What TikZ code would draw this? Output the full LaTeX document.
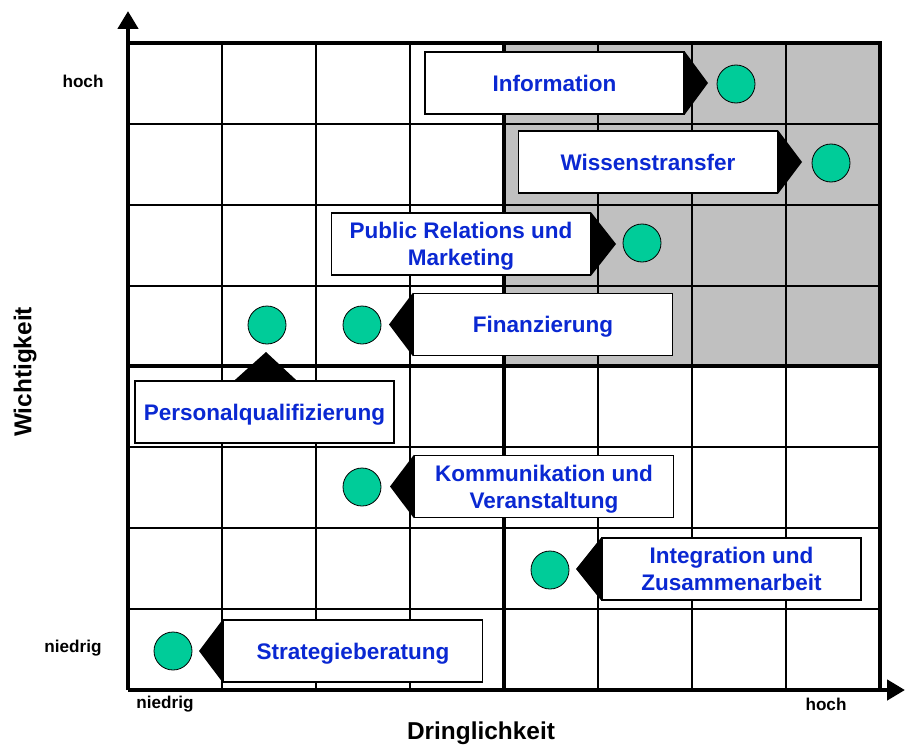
\documentclass[tikz,border=0pt]{standalone}
\usepackage{fontspec}
\setmainfont{Liberation Sans}
\usetikzlibrary{arrows.meta}
\definecolor{itemblue}{RGB}{10,40,210}
\definecolor{dotgreen}{RGB}{0,204,153}
\definecolor{zonegray}{RGB}{192,192,192}
\tikzset{
  thinrule/.style={line width=1.3bp, black},
  thickrule/.style={line width=4.5bp, black},
  axisarrow/.style={line width=4.5bp, -{Triangle[length=18bp,width=20bp]}},
  itembox/.style={draw=black, line width=1.3bp, fill=white, minimum width=259bp,
    minimum height=62bp, inner sep=0pt, align=center, text=itemblue, text depth=0pt,
    font=\bfseries\fontsize{22.6}{27}\selectfont},
  dot/.style={circle, draw=black, line width=0.8bp, fill=dotgreen, minimum size=38bp, inner sep=0pt},
  pointer/.style={fill=black, draw=none},
  scalelabel/.style={font=\bfseries\fontsize{17.2}{19}\selectfont},
  axistitle/.style={font=\bfseries\fontsize{24.5}{27}\selectfont}
}
\begin{document}
\begin{tikzpicture}[x=1bp, y=-1bp]
  \useasboundingbox (0,0) rectangle (905,747);
  % shaded upper right quadrant
  \fill[zonegray] (504,43) rectangle (880,366);
  % grid of 8 x 8 cells
  \foreach \gx in {222,316,410,598,692,786}
    \draw[thinrule] (\gx,43) -- (\gx,690);
  \foreach \gy in {124,205,286,447,528,609}
    \draw[thinrule] (128,\gy) -- (880,\gy);
  % quadrant borders
  \draw[thickrule] (128,43) -- (880,43) -- (880,690);
  \draw[thickrule] (504,43) -- (504,690);
  \draw[thickrule] (128,366) -- (880,366);
  % axes
  \coordinate (origin) at (128,690);
  \coordinate (ytop) at (128,11);
  \coordinate (xend) at (905,690);
  \draw[axisarrow] (origin) -- (ytop);
  \draw[axisarrow] (origin) -- (xend);
  % scale labels
  \node[scalelabel] (yhigh) at (83,81) {hoch};
  \node[scalelabel] (ylow) at (73,648) {niedrig};
  \node[scalelabel] (xlow) at (165,704) {niedrig};
  \node[scalelabel] (xhigh) at (826,704) {hoch};
  \node[axistitle] (xtitle) at (481,733) {Dringlichkeit};
  \node[axistitle, rotate=90] (ytitle) at (25,372) {Wichtigkeit};

  % items: box, pointer tip, dot
  \node[itembox] (info) at (554.5,83) {Information};
  \coordinate (infotip) at (708,83);
  \fill[pointer] (info.north east) -- (infotip) -- (info.south east) -- cycle;
  \node[dot] (infodot) at (736,84) {};

  \node[itembox] (wissen) at (648,162) {Wissenstransfer};
  \coordinate (wissentip) at (802,162);
  \fill[pointer] (wissen.north east) -- (wissentip) -- (wissen.south east) -- cycle;
  \node[dot] (wissendot) at (831,163) {};

  \node[itembox] (pr) at (461,244) {Public Relations und\\Marketing};
  \coordinate (prtip) at (616,244);
  \fill[pointer] (pr.north east) -- (prtip) -- (pr.south east) -- cycle;
  \node[dot] (prdot) at (642,243) {};

  \node[itembox] (fin) at (543,324.5) {Finanzierung};
  \coordinate (fintip) at (389,324.5);
  \fill[pointer] (fin.north west) -- (fintip) -- (fin.south west) -- cycle;
  \node[dot] (findot) at (362,325) {};

  \node[itembox] (pers) at (264.5,412) {Personalqualifizierung};
  \coordinate (perstip) at (266,352);
  \fill[pointer] ([xshift=-30bp]pers.north) -- (perstip) -- ([xshift=32bp]pers.north) -- cycle;
  \node[dot] (persdot) at (267,325) {};

  \node[itembox] (komm) at (544,486.5) {Kommunikation und\\Veranstaltung};
  \coordinate (kommtip) at (390,486.5);
  \fill[pointer] (komm.north west) -- (kommtip) -- (komm.south west) -- cycle;
  \node[dot] (kommdot) at (362,487) {};

  \node[itembox] (integ) at (731.5,569) {Integration und\\Zusammenarbeit};
  \coordinate (integtip) at (576,569);
  \fill[pointer] (integ.north west) -- (integtip) -- (integ.south west) -- cycle;
  \node[dot] (integdot) at (550,570) {};

  \node[itembox] (strat) at (353,651) {Strategieberatung};
  \coordinate (strattip) at (199,651);
  \fill[pointer] (strat.north west) -- (strattip) -- (strat.south west) -- cycle;
  \node[dot] (stratdot) at (173,651) {};
\end{tikzpicture}
\end{document}
